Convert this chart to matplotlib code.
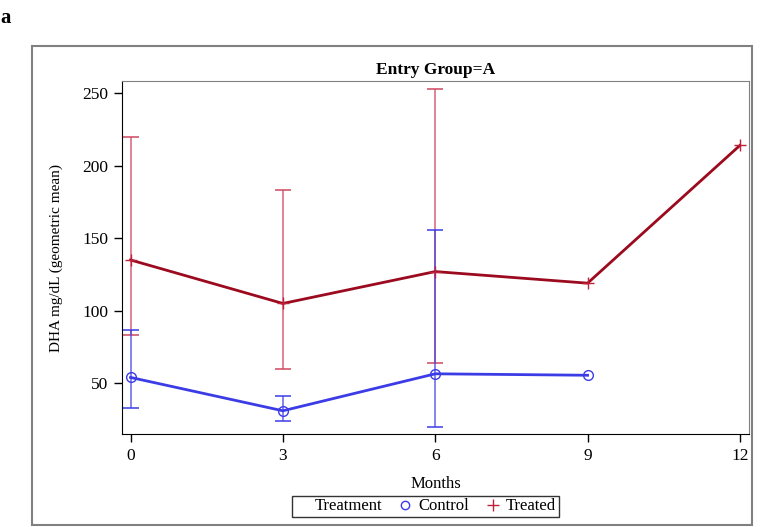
import matplotlib.pyplot as plt
from matplotlib.patches import Rectangle
from matplotlib.lines import Line2D

plt.rcParams["font.family"] = ["Liberation Serif", "DejaVu Serif"]

months_treated = [0, 3, 6, 9, 12]
treated_mean = [135, 105, 127, 119, 214]
treated_upper = [220, 183, 253, None, None]
treated_lower = [83, 60, 64, None, None]

months_control = [0, 3, 6, 9]
control_mean = [54, 31, 56.5, 55.5]
control_upper = [87, 41, 156, None]
control_lower = [33, 24, 20, None]

red_line = "#9b0a1e"
red_err = "#d04860"
blue = "#3c3ce6"

fig = plt.figure(figsize=(7.62, 5.27), dpi=100)
ax = fig.add_axes([0.160, 0.1765, 0.823, 0.6695])

# error bars
for x, lo, hi in zip(months_treated, treated_lower, treated_upper):
    if lo is None:
        continue
    ax.vlines(x, lo, hi, color=red_err, lw=1.1, alpha=0.85)
    ax.plot([x, x], [lo, hi], ls="none", marker="_", ms=11, mew=1.1, color=red_err)
for x, lo, hi in zip(months_control, control_lower, control_upper):
    if lo is None:
        continue
    ax.vlines(x, lo, hi, color=blue, lw=1.1, alpha=0.8)
    ax.plot([x, x], [lo, hi], ls="none", marker="_", ms=11, mew=1.1, color=blue)

ax.plot(months_treated, treated_mean, color=red_line, lw=2)
ax.plot(months_treated, treated_mean, ls="none", marker="+", ms=8, mew=1, color="#c0203a")
ax.plot(months_control, control_mean, color=blue, lw=2)
ax.plot(months_control, control_mean, ls="none", marker="o", ms=7, mfc="none", mew=1, color=blue)

ax.set_xlim(-0.17, 12.18)
ax.set_ylim(15, 258.3)
ax.set_xticks([0, 3, 6, 9, 12])
ax.set_yticks([50, 100, 150, 200, 250])
ax.tick_params(labelsize=12.5, length=6, width=1, pad=4)
ax.set_xlabel("Months", fontsize=12, labelpad=9)
ax.set_ylabel("DHA mg/dL (geometric mean)", fontsize=11, labelpad=14)
ax.set_title("Entry Group=A", fontsize=12.5, fontweight="bold", pad=5)
for side in ["top", "right"]:
    ax.spines[side].set_color("#808080")
for side in ["left", "bottom"]:
    ax.spines[side].set_color("black")

# legend: "Treatment" as first (handle-less) entry
handles = [
    Line2D([], [], ls="none"),
    Line2D([], [], ls="none", marker="o", ms=6, mfc="none", color=blue),
    Line2D([], [], ls="none", marker="+", ms=8, color="#c0203a"),
]
leg = fig.legend(handles, ["Treatment", "Control", "Treated"], ncol=3,
                 loc="center", bbox_to_anchor=(0.558, 0.039), frameon=True,
                 fontsize=12, handlelength=0.8, handletextpad=0.4,
                 columnspacing=1.0, borderpad=0.15, borderaxespad=0,
                 fancybox=False, edgecolor="black")
leg.get_frame().set_linewidth(1)

fig.patches.append(Rectangle((32 / 762, 2 / 527), 720 / 762, 479 / 527,
                             transform=fig.transFigure, fill=False,
                             edgecolor="#808080", lw=1.5))
fig.text(0.001, 0.985, "a", fontsize=15, fontweight="bold", va="top", ha="left")

fig.savefig("out.png", dpi=100)
